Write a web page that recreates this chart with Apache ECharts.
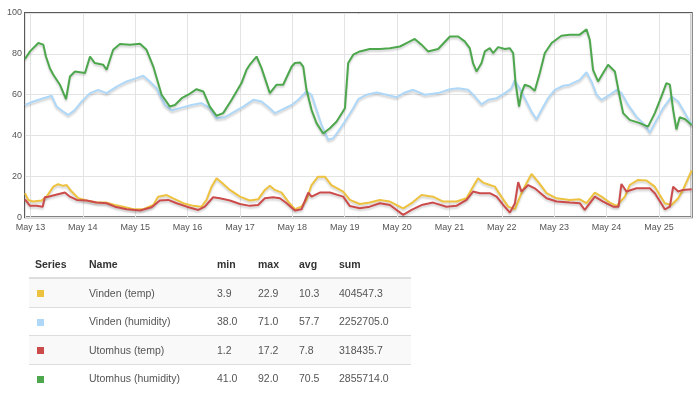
<!DOCTYPE html>
<html><head><meta charset="utf-8">
<script src="https://cdn.jsdelivr.net/npm/echarts@6/dist/echarts.min.js"></script>
<style>
body{margin:0;background:#fff;}
#chart{position:absolute;left:0;top:0;width:700px;height:409px;}
#tbl{position:absolute;left:29px;top:251px;width:382px;border-collapse:collapse;font-family:"Liberation Sans",Arial,sans-serif;font-size:10.5px;color:#555;table-layout:fixed;z-index:2;}
#tbl th{font-weight:bold;color:#333;text-align:left;padding:0 0 0 6px;height:26px;border-bottom:2px solid #ddd;}
#tbl td{padding:0 0 0 6px;height:27.5px;border-top:1px solid #ddd;}
#tbl tbody tr:nth-child(odd) td{background:#f9f9f9;}
.sq{display:inline-block;width:7px;height:7px;margin-left:2px;vertical-align:middle;}
</style></head>
<body>
<div id="chart"></div>
<table id="tbl"><colgroup><col style="width:54px"><col style="width:128px"><col style="width:41px"><col style="width:41px"><col style="width:40px"><col style="width:78px"></colgroup>
<thead><tr><th>Series</th><th>Name</th><th>min</th><th>max</th><th>avg</th><th>sum</th></tr></thead><tbody id="tb"></tbody></table>
<script>
// hours since May 13 00:00, value
const vindenTemp = [[-2.5,11.8],[-1,8.5],[1.3,7.7],[5.1,8.2],[7.4,10.1],[10.5,15],[12.7,16.2],[15,15.4],[16.6,15.8],[18.9,12.6],[21.9,9.3],[25.7,8.2],[30.3,7.2],[34.9,7.2],[38.7,6],[42.5,5.2],[47.1,4],[51.7,4],[56.3,6],[58.5,10.1],[62.4,10.9],[65.4,9.3],[70,6.9],[74.6,5.6],[78.4,5.2],[80.7,8.5],[83,15],[85.3,19.1],[87.6,17],[91.4,13.4],[96,10.1],[100.5,8.2],[104.3,8.8],[107.4,13.4],[109.7,15.4],[112,13.4],[115.1,12.1],[118.1,7.7],[121.2,4],[124.2,5.2],[126.5,8.5],[128.8,15.8],[131.8,19.9],[134.9,19.9],[137.9,15.8],[143.3,12.6],[146.4,8.5],[150.9,6.5],[155.5,7.2],[160.1,8.5],[164.7,7.7],[170.8,4.4],[174.6,6.9],[179.2,10.9],[184.5,10.1],[189.1,7.7],[195.2,7.7],[199.8,9.3],[202.8,15],[205.1,19.1],[207.4,17],[210.5,15.8],[212.8,15],[215.8,10.1],[218.9,5.2],[222,4],[225,11.8],[227.3,16.7],[229.6,21.2],[232.6,17.5],[236.5,11.8],[241.1,9.3],[247.1,8.5],[251.7,8.8],[254.8,6.9],[258.6,12.1],[261.7,10.1],[265.5,7.2],[268.6,5.6],[272.4,10.1],[274.6,15.8],[278.4,18.3],[282.3,18],[286.1,15],[290.7,6.9],[293.7,6],[296.8,9.3],[299,13.4],[303,22.9]];
const vindenHum = [[-2.5,55],[1.3,56.7],[5.9,58.3],[9.7,59.5],[12,54.2],[15,51.8],[17.3,50.1],[20.4,52.6],[23.5,56.7],[27.3,60.8],[31.1,62.4],[34.9,60.8],[39.5,64],[44.1,66.5],[48.6,68.1],[51.7,69.3],[54.7,66.5],[57.8,63.2],[61.6,55],[64.7,52.3],[69.3,53.7],[73.8,55],[78.4,55.9],[82.2,53.4],[85.3,48.5],[89.1,49],[93.7,51.8],[97.5,54.2],[102.1,57.5],[105.9,56.7],[109.7,53.4],[112,51],[115.1,52.6],[119.7,55],[122.7,57.5],[126.5,61.6],[128.8,60],[131.1,52.6],[133.4,45.2],[136.4,38],[138.7,38.7],[141,42],[144.1,46.9],[147.9,53.4],[150.2,57.8],[154,60],[158.6,61.1],[163.2,60],[167.8,58.8],[171.6,61.1],[175.4,62.4],[180.7,60],[186.8,60.8],[192.2,62.7],[196,63.2],[200.6,62.4],[203.7,59.1],[206.7,55.3],[209.8,57.5],[213.6,58.3],[217.4,60.8],[220.4,63.2],[221.9,67],[224.2,63.2],[226.5,58.3],[229.6,51.8],[231.9,48],[234.2,52.6],[237.2,58.3],[240.3,62.4],[244.1,64.4],[247.1,64.9],[251.7,67.3],[254.8,71],[257.1,66.5],[259.4,60],[261.7,57.5],[265.5,60],[268.6,62.4],[270.8,60.8],[273.9,55],[277.7,49.3],[281.5,45.2],[283.8,41.5],[286.1,46.1],[289.9,53.4],[293.8,59.1],[296.8,56.7],[299.9,51],[303,45.2]];
const utomhusTemp = [[-2.5,8.8],[-0.2,5.6],[2.8,5.7],[5.6,5.2],[6.6,9.8],[8.2,10.1],[11.2,10.9],[15.8,12.1],[18.1,10.1],[21.2,8.5],[25.7,8.2],[30.3,7.2],[34.9,6.9],[38.7,5.2],[44.1,3.9],[50.2,3.3],[55.5,4.9],[59.3,8.2],[63.1,8.5],[67,6.9],[71.6,5.2],[76.9,3.6],[79.9,5.2],[83.7,9.8],[86.8,9.3],[91.4,8.2],[96,6.5],[100.5,5.6],[104.3,6],[107.4,9.3],[111.2,9.8],[114.3,9.3],[117.4,6.9],[121.2,3.3],[124.2,3.9],[126.2,9.3],[127.3,12.1],[128.8,10.1],[132.6,12.1],[137.2,12.1],[143.3,10.1],[146.4,5.5],[150.9,4.4],[155.5,5.2],[160.1,6.9],[164.7,6],[170.8,1.2],[174.6,3.6],[179.2,6],[184.5,7.2],[190.6,5.2],[195.2,5.6],[199.8,8.5],[202.8,12.6],[205.9,11.8],[210.5,11.8],[213.6,10.1],[216.7,6],[219.7,2.3],[222,6.9],[223.5,17.2],[225,12.6],[228.1,15.8],[231.1,14.2],[236.5,9.3],[241.1,7.7],[247.1,7.2],[251.7,6.9],[254,3.6],[258.6,10.1],[262.4,7.7],[267,5.2],[269.5,5.2],[270.8,16.3],[273.1,12.6],[277.7,14.2],[283.8,14.2],[286.1,11.8],[290.7,3.9],[293,5.2],[294.5,15],[296.8,12.6],[299,13.4],[303,13.7]];
const utomhusHum = [[-2.5,77.5],[-0.2,81.2],[3.6,85.3],[5.9,84.5],[7.1,78.7],[8.9,73],[10.5,69.8],[13.5,64.9],[16.3,57.8],[18.1,68.9],[20.4,71.4],[25,70.6],[27.3,78.7],[29.5,75.5],[33.3,74.7],[34.9,72.2],[37.9,82],[41,84.8],[45.6,84.5],[50.2,85],[53.2,82],[56.3,73.8],[60.1,60],[63.9,54.2],[66.2,55],[69.3,58.3],[72.3,60],[76.1,62.7],[79.2,61.6],[82.2,54.2],[85.3,49.7],[88.3,51],[92.2,57.5],[96.7,65.7],[99,72.2],[100.5,74.7],[103.6,78.7],[105.9,73],[109.7,60.8],[112.8,64.9],[115.8,64.9],[119.7,73.8],[121.2,75.5],[123.5,75.8],[125,73.8],[126.5,62.4],[128.8,52.6],[131.1,46.1],[134.1,41],[137.2,43.6],[140.3,46.9],[144.1,53.4],[145.6,75.5],[147.9,79.6],[150.9,81.2],[155.5,82.4],[160.1,82.4],[164.7,82.8],[169.3,83.6],[172.3,85.3],[176.1,87.3],[179.2,84.5],[182.2,81.2],[186.8,82.4],[192.2,88.5],[196,88.5],[199,86.1],[201.3,82.8],[202.8,75.5],[204.4,71.4],[206.7,75.5],[208.2,81.2],[210.5,82.8],[212,80.4],[214.3,83.3],[217.4,82.4],[219.6,82.8],[221.2,80.4],[222.3,65.7],[223.9,54.2],[225,60.8],[226.5,64.9],[228.8,64],[231.1,61.9],[233.4,70.6],[235.7,80.4],[238.8,85.3],[243.3,88.9],[247.1,89.4],[251.7,89.4],[254.8,92],[256.3,86.9],[257.8,72.2],[260.1,66.5],[262.4,70.6],[264.7,74.7],[267.8,71.4],[270,59.1],[271.6,51],[274.6,47.7],[279.2,46.1],[283,44.4],[286.1,51],[289.1,59.1],[291.4,65.7],[293,64.9],[294.5,52.6],[296,43],[297.5,49],[300,48],[303,45.2]];

const seriesNames = ['Vinden (temp)','Vinden (humidity)','Utomhus (temp)','Utomhus (humidity)'];
const seriesColors = ['#edc240','#afd8f8','#cb4b4b','#4da74d'];
const statMin = ['3.9','38.0','1.2','41.0'];
const statMax = ['22.9','71.0','17.2','92.0'];
const statAvg = ['10.3','57.7','7.8','70.5'];
const statSum = ['404547.3','2252705.0','318435.7','2855714.0'];
const monthNames = ['Jan','Feb','Mar','Apr','May','Jun','Jul','Aug','Sep','Oct','Nov','Dec'];
const xStartHour = -2.5, xEndHour = 303;

const base = new Date(2013, 4, 13, 0, 0, 0).getTime();
const H = 3600e3;
const toTs = arr => arr.map(p => [base + p[0]*H, p[1]]);
const allData = [vindenTemp, vindenHum, utomhusTemp, utomhusHum];

const chart = echarts.init(document.getElementById('chart'), null, {renderer:'canvas'});
chart.setOption({
  backgroundColor:'#fff',
  animation:false,
  grid:{left:25, top:13, width:666.7, height:204.3, show:true, borderColor:'#5a5a5a', borderWidth:2, backgroundColor:'transparent'},
  xAxis:{type:'time', min: base + xStartHour*H, max: base + xEndHour*H,
    minInterval: 24*H, maxInterval: 24*H,
    axisLine:{show:false}, axisTick:{show:false},
    splitLine:{show:true, lineStyle:{color:'#e3e3e3', width:1}},
    axisLabel:{color:'#555', fontSize:9, fontFamily:'Liberation Sans, Arial, sans-serif', margin:6, showMinLabel:false, showMaxLabel:false,
      formatter: v => { const d = new Date(v); return monthNames[d.getMonth()] + ' ' + d.getDate(); }}
  },
  yAxis:{type:'value', min:0, max:100, interval:20,
    axisLine:{show:false}, axisTick:{show:false},
    splitLine:{show:true, lineStyle:{color:'#e3e3e3', width:1}},
    axisLabel:{color:'#555', fontSize:9, fontFamily:'Liberation Sans, Arial, sans-serif', margin:3}
  },
  series: allData.map((d,i) => ({
    name: seriesNames[i], type:'line', data: toTs(d), showSymbol:false, symbol:'none',
    lineStyle:{color:seriesColors[i], width:2, shadowColor:'rgba(0,0,0,0.18)', shadowBlur:2, shadowOffsetY:2},
    itemStyle:{color:seriesColors[i]}, z: 2+i
  }))
});

const tb = document.getElementById('tb');
seriesNames.forEach((n,i) => {
  const tr = document.createElement('tr');
  tr.innerHTML = '<td><span class="sq" style="background:'+seriesColors[i]+'"></span></td><td>'+n+'</td><td>'+statMin[i]+'</td><td>'+statMax[i]+'</td><td>'+statAvg[i]+'</td><td>'+statSum[i]+'</td>';
  tb.appendChild(tr);
});
</script>
</body></html>
